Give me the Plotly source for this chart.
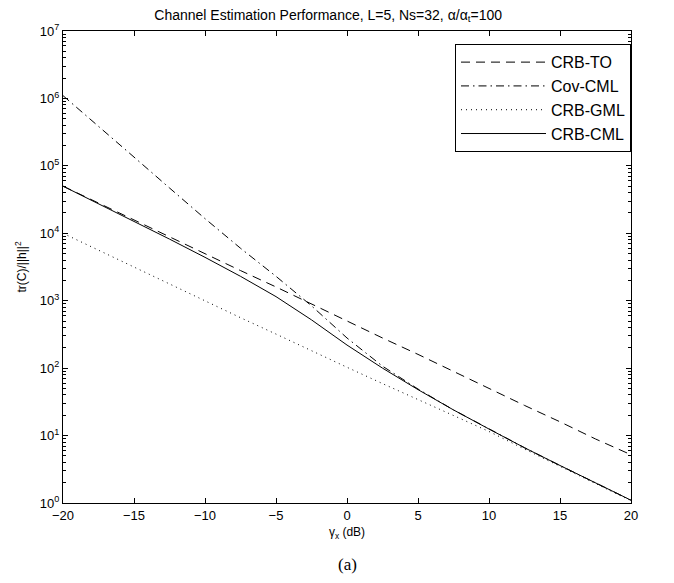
import plotly.graph_objects as go

snr_db = [-20, -17.5, -15, -12.5, -10, -7.5, -5, -2.5, 0, 2.5, 5, 7.5, 10, 12.5, 15, 17.5, 20]
crb_to = [5e4, 2.8e4, 1.6e4, 8.9e3, 5e3, 2.8e3, 1.6e3, 8.9e2, 5e2, 2.8e2, 1.6e2, 89, 50, 28, 16, 8.9, 5.2]
cov_cml = [1.1e6, 3.8e5, 1.35e5, 4.7e4, 1.65e4, 6.0e3, 2.3e3, 8.4e2, 2.8e2, 1.07e2, 49, 24, 12.5, 6.6, 3.6, 2.0, 1.1]
crb_gml = [1e4, 5.6e3, 3.2e3, 1.8e3, 1e3, 5.6e2, 3.2e2, 1.8e2, 1.03e2, 59, 34, 20, 11.5, 6.3, 3.5, 1.95, 1.08]
crb_cml = [5e4, 2.75e4, 1.5e4, 8.2e3, 4.4e3, 2.3e3, 1.15e3, 5.2e2, 2.2e2, 1.0e2, 48, 24, 12.5, 6.6, 3.6, 2.0, 1.1]

x_ticks = [-20, -15, -10, -5, 0, 5, 10, 15, 20]
y_exps = [0, 1, 2, 3, 4, 5, 6, 7]

fig = go.Figure()
series = [
    ("CRB-TO", crb_to, "9px,6px"),
    ("Cov-CML", cov_cml, "8px,4px,1.5px,4px"),
    ("CRB-GML", crb_gml, "1px,4px"),
    ("CRB-CML", crb_cml, "solid"),
]
for name, vals, dash in series:
    fig.add_trace(go.Scatter(x=snr_db, y=vals, mode="lines", name=name,
                             line=dict(color="black", width=1, dash=dash)))

minor_vals = [m * 10 ** e for e in range(0, 7) for m in range(2, 10)]

FONT = "Liberation Sans, Arial, Helvetica"
axis_common = dict(showline=True, linecolor="black", linewidth=1, mirror="ticks",
                   ticks="inside", ticklen=5, tickcolor="black", showgrid=False,
                   zeroline=False, tickfont=dict(family=FONT, size=13, color="black"))

fig.update_layout(
    width=674, height=583,
    paper_bgcolor="white", plot_bgcolor="white",
    margin=dict(l=55, r=51, t=23, b=88),
    title=dict(text="Channel Estimation Performance, L=5, Ns=32, α/α<sub>t</sub>=100",
               x=0.475, xanchor="center", y=0.997, yanchor="top",
               font=dict(family=FONT, size=14, color="black")),
    font=dict(family=FONT, color="black"),
    xaxis=dict(range=[-20, 20], tickvals=x_ticks, ticktext=[str(v).replace("-", "−") for v in x_ticks],
               title=dict(text="γ<sub>x</sub> (dB)", font=dict(size=12), standoff=6),
               **axis_common),
    yaxis=dict(type="log", range=[0, 7], tickvals=[10 ** e for e in y_exps],
               ticktext=[f"10<sup>{e}</sup>" for e in y_exps],
               title=dict(text="tr(C)/||h||<sup>2</sup>", font=dict(size=12), standoff=10),
               minor=dict(tickvals=minor_vals, ticks="inside", ticklen=3, tickcolor="black", showgrid=False),
               **axis_common),
    legend=dict(x=1.0, xanchor="right", y=0.972, yanchor="top",
                bordercolor="black", borderwidth=1, bgcolor="white",
                font=dict(family=FONT, size=16, color="black"),
                itemwidth=85, tracegroupgap=0),
    showlegend=True,
)

fig.add_annotation(text="(a)", xref="paper", yref="paper", x=0.5, y=-0.13,
                   showarrow=False, yanchor="middle",
                   font=dict(family="Liberation Serif, Times New Roman", size=17, color="black"))

fig.write_html("out.html")
